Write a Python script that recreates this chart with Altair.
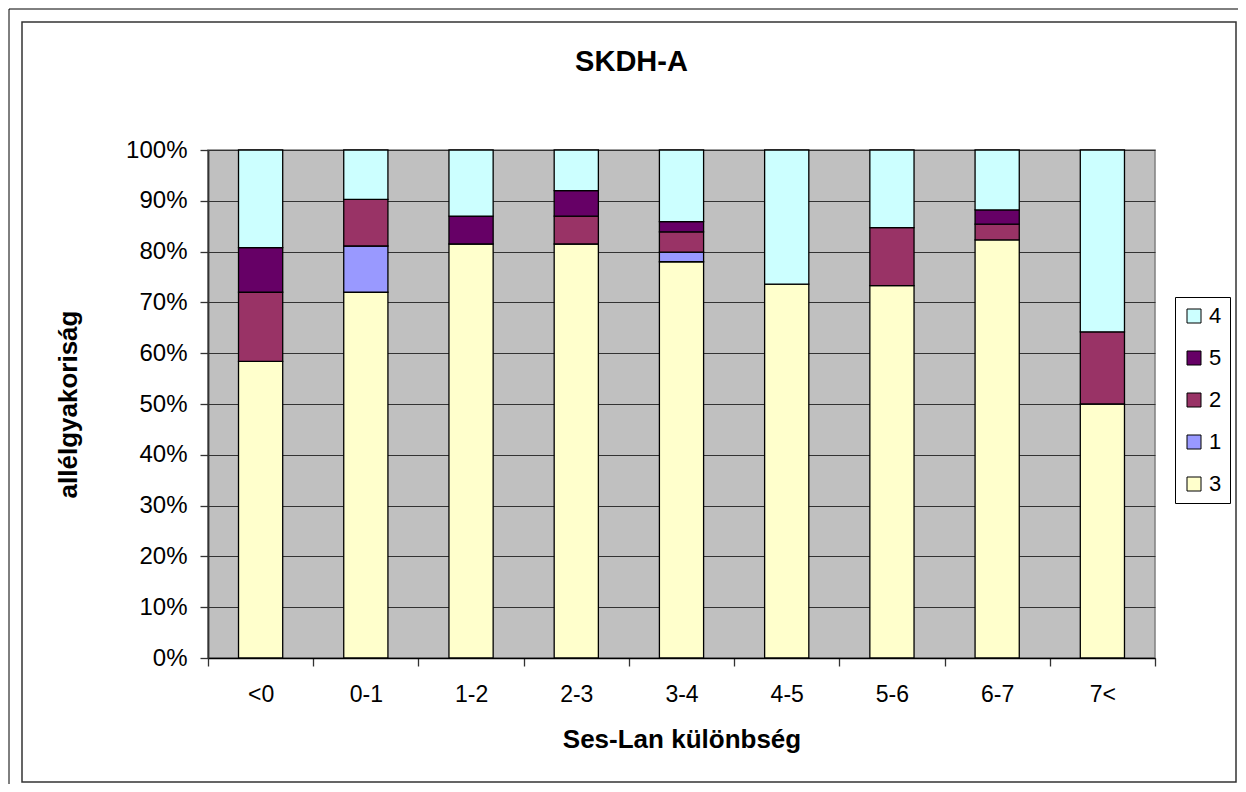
import altair as alt
import pandas as pd

# ---- data (percent) ----
categories = ["<0", "0-1", "1-2", "2-3", "3-4", "4-5", "5-6", "6-7", "7<"]
stack_order = ["3", "1", "2", "5", "4"]          # bottom -> top
legend_order = ["4", "5", "2", "1", "3"]         # legend top -> bottom
legend_colors = ["#CCFFFF", "#660066", "#993366", "#9999FF", "#FFFFCC"]

s3 = [58.4, 72.0, 81.5, 81.5, 78.0, 73.6, 73.3, 82.3, 50.0]
s1 = [0.0, 9.1, 0.0, 0.0, 1.9, 0.0, 0.0, 0.0, 0.0]
s2 = [13.6, 9.2, 0.0, 5.5, 4.0, 0.0, 11.4, 3.1, 14.2]
s5 = [8.8, 0.0, 5.5, 5.0, 2.0, 0.0, 0.0, 2.8, 0.0]
s4 = [19.2, 9.7, 13.0, 8.0, 14.1, 26.4, 15.3, 11.8, 35.8]

y_ticks = [0, 0.1, 0.2, 0.3, 0.4, 0.5, 0.6, 0.7, 0.8, 0.9, 1.0]

series = {"3": s3, "1": s1, "2": s2, "5": s5, "4": s4}
rows = []
for name, vals in series.items():
    for cat, v in zip(categories, vals):
        if v > 0:
            rows.append({"cat": cat, "allele": name, "value": v,
                         "order": stack_order.index(name)})
df = pd.DataFrame(rows)

FONT = "Liberation Sans"
W, H = 947, 508

bars = alt.Chart(df).mark_bar(
    width=alt.RelativeBandSize(0.42), stroke="black", strokeWidth=1.3
).encode(
    x=alt.X("cat:N", sort=categories,
            scale=alt.Scale(paddingInner=0, paddingOuter=0),
            axis=alt.Axis(title="Ses-Lan különbség", labelAngle=0, tickBand="extent",
                          grid=False, tickSize=8, tickColor="#333333", tickWidth=1.3,
                          domainColor="black", domainWidth=1.3,
                          labelFont=FONT, labelFontSize=23, labelColor="black",
                          labelPadding=17, titleFont=FONT, titleFontSize=26,
                          titleFontWeight="bold", titleColor="black", titlePadding=20)),
    y=alt.Y("value:Q", stack="normalize", scale=alt.Scale(domain=[0, 1]),
            axis=alt.Axis(title="allélgyakoriság", format=".0%", values=y_ticks,
                          grid=True, gridColor="#333333", gridWidth=1,
                          tickSize=8, tickColor="#333333", tickWidth=1.3,
                          domainColor="#333333", domainWidth=1.8,
                          labelFont=FONT, labelFontSize=24, labelColor="black",
                          labelPadding=13, titleFont=FONT, titleFontSize=26,
                          titleFontWeight="bold", titleColor="black", titlePadding=44)),
    color=alt.Color("allele:N",
                    scale=alt.Scale(domain=legend_order, range=legend_colors),
                    legend=alt.Legend(title=None, orient="none", legendX=967, legendY=147,
                                      padding=8, rowPadding=20, strokeColor="black",
                                      fillColor="white", symbolType="square",
                                      symbolSize=196, symbolStrokeColor="black",
                                      symbolStrokeWidth=1, symbolOpacity=1,
                                      labelFont=FONT, labelFontSize=22, labelColor="black",
                                      labelOffset=4)),
    order=alt.Order("order:Q"),
)

frame_df = pd.DataFrame({"f": [0]})
outer = alt.Chart(frame_df).mark_rect(fillOpacity=0, stroke="black", strokeWidth=1).encode(
    x=alt.value(-199), x2=alt.value(1046), y=alt.value(-141), y2=alt.value(650))
inner = alt.Chart(frame_df).mark_rect(fillOpacity=0, stroke="#333333", strokeWidth=1.5).encode(
    x=alt.value(-186), x2=alt.value(1028), y=alt.value(-128), y2=alt.value(632))

chart = alt.layer(outer, inner, bars).properties(
    width=W, height=H,
    padding={"left": 200, "top": 142, "right": 83, "bottom": 126},
    autosize=alt.AutoSizeParams(type="none"),
    background="white",
    title=alt.Title("SKDH-A", font=FONT, fontSize=29, fontWeight="bold", color="black",
                    anchor="middle", frame="group", dx=-50, baseline="alphabetic",
                    offset=-91),
).configure_view(fill="#C0C0C0", stroke="#808080", strokeWidth=1.5)

chart.save("out.html", embed_options={"renderer": "svg", "actions": False})
